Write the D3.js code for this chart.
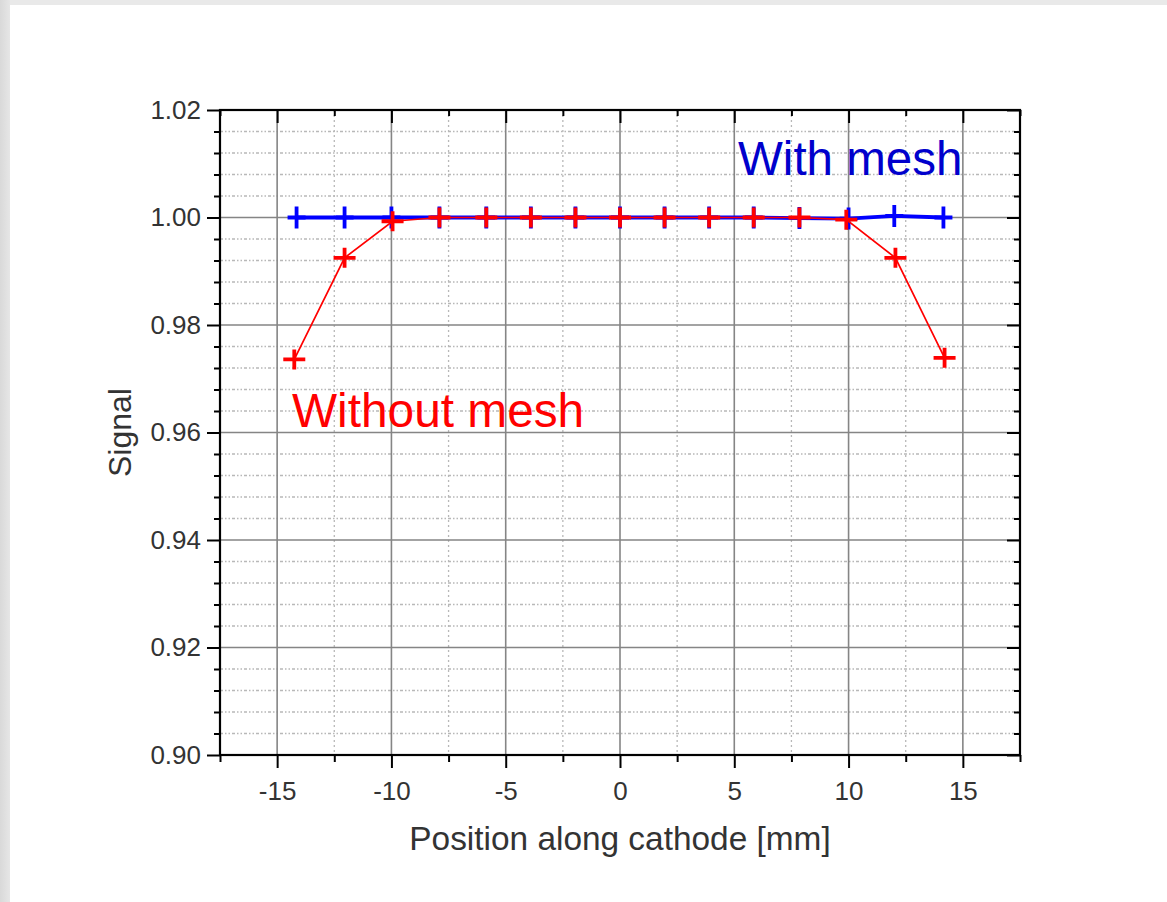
<!DOCTYPE html>
<html>
<head>
<meta charset="utf-8">
<script src="https://cdn.jsdelivr.net/npm/d3@7"></script>
<style>
  html, body { margin: 0; padding: 0; background: #ffffff; }
  svg { display: block; }
  text { font-family: "Liberation Sans", Arial, sans-serif; }
</style>
</head>
<body>
<svg id="chart" width="1167" height="902"></svg>
<script>
// Signal uniformity along the cathode, with and without mesh
const xWithMesh = [-14.15, -12.05, -10.0, -7.9, -5.85, -3.9, -1.95, 0, 1.95, 3.9, 5.85, 7.85, 10.0, 12.0, 14.15];
const yWithMesh = [1.0000, 1.0000, 1.0000, 1.0000, 1.0000, 1.0000, 1.0000, 1.0000, 1.0000, 1.0000, 1.0000, 0.9999, 0.9998, 1.0003, 1.0000];

const xWithoutMesh = [-14.25, -12.05, -9.95, -7.9, -5.85, -3.9, -1.95, 0, 1.95, 3.9, 5.85, 7.85, 9.9, 12.05, 14.2];
const yWithoutMesh = [0.9736, 0.9925, 0.9993, 1.0000, 1.0000, 1.0000, 1.0000, 1.0000, 1.0000, 1.0000, 1.0000, 1.0000, 0.9996, 0.9925, 0.9739];

const xTicks = [-15, -10, -5, 0, 5, 10, 15];
const yTicks = [0.90, 0.92, 0.94, 0.96, 0.98, 1.00, 1.02];

const svg = d3.select("#chart");
const W = 1167, H = 902;

// page frame: grey margin on the left and top edges
const defs = svg.append("defs");
const lg = defs.append("linearGradient").attr("id", "edgeL").attr("x1", 0).attr("x2", 1);
lg.append("stop").attr("offset", "0%").attr("stop-color", "#d9d9d9");
lg.append("stop").attr("offset", "100%").attr("stop-color", "#e6e6e6");
svg.append("rect").attr("x", 0).attr("y", 0).attr("width", W).attr("height", H).attr("fill", "#ffffff");
svg.append("rect").attr("x", 0).attr("y", 0).attr("width", W).attr("height", 5).attr("fill", "#e9e9e9");
svg.append("rect").attr("x", 0).attr("y", 0).attr("width", 10).attr("height", H).attr("fill", "url(#edgeL)");

const plot = { left: 220, right: 1020, top: 110, bottom: 755 };

const x = d3.scaleLinear().domain([-17.5, 17.5]).range([plot.left, plot.right]);
const y = d3.scaleLinear().domain([0.90, 1.02]).range([plot.bottom, plot.top]);

const xMinor = d3.range(-17.5, 17.51, 2.5).filter(v => Math.abs(v % 5) > 1e-6);
const yMinor = d3.range(0, 31).map(i => 0.90 + i * 0.004).filter((v, i) => i % 5 !== 0);

const g = svg.append("g");

// minor grid (dotted)
g.append("g").selectAll("line").data(yMinor).join("line")
  .attr("x1", plot.left).attr("x2", plot.right)
  .attr("y1", d => y(d)).attr("y2", d => y(d))
  .attr("stroke", "#b8b8b8").attr("stroke-width", 1.3).attr("stroke-dasharray", "3,2,1.5,2,1.5,2");
g.append("g").selectAll("line").data(xMinor).join("line")
  .attr("y1", plot.top).attr("y2", plot.bottom)
  .attr("x1", d => x(d)).attr("x2", d => x(d))
  .attr("stroke", "#b8b8b8").attr("stroke-width", 1.3).attr("stroke-dasharray", "2,3");

// major grid (solid)
g.append("g").selectAll("line").data(yTicks.slice(1, -1)).join("line")
  .attr("x1", plot.left).attr("x2", plot.right)
  .attr("y1", d => y(d)).attr("y2", d => y(d))
  .attr("stroke", "#858585").attr("stroke-width", 1.6);
g.append("g").selectAll("line").data(xTicks).join("line")
  .attr("y1", plot.top).attr("y2", plot.bottom)
  .attr("x1", d => x(d)).attr("x2", d => x(d))
  .attr("stroke", "#858585").attr("stroke-width", 1.6);

// axes: major and minor ticks
function styleAxis(sel) {
  sel.select(".domain").remove();
  sel.selectAll(".tick line").attr("stroke", "#000").attr("stroke-width", 2);
  sel.selectAll("text").attr("fill", "#333").attr("font-size", 26);
}
const fmtY = d3.format(".2f");
const fmtX = d => String(d);   // plain hyphen for negative values

svg.append("g").attr("transform", `translate(0,${plot.bottom})`)
  .call(d3.axisBottom(x).tickValues(xMinor).tickSize(7).tickFormat(""))
  .call(styleAxis);
svg.append("g").attr("transform", `translate(0,${plot.bottom})`)
  .call(d3.axisBottom(x).tickValues(xTicks).tickSize(13).tickPadding(14).tickFormat(fmtX))
  .call(styleAxis);
svg.append("g").attr("transform", `translate(0,${plot.top})`)
  .call(d3.axisBottom(x).tickValues(xMinor).tickSize(6).tickFormat(""))
  .call(styleAxis);
svg.append("g").attr("transform", `translate(0,${plot.top})`)
  .call(d3.axisBottom(x).tickValues(xTicks).tickSize(13).tickFormat(""))
  .call(styleAxis);

svg.append("g").attr("transform", `translate(${plot.left},0)`)
  .call(d3.axisLeft(y).tickValues(yMinor).tickSize(6).tickFormat(""))
  .call(styleAxis);
svg.append("g").attr("transform", `translate(${plot.left},0)`)
  .call(d3.axisLeft(y).tickValues(yTicks).tickSize(13).tickPadding(6).tickFormat(fmtY))
  .call(styleAxis);
svg.append("g").attr("transform", `translate(${plot.right},0)`)
  .call(d3.axisLeft(y).tickValues(yMinor).tickSize(6).tickFormat(""))
  .call(styleAxis);
svg.append("g").attr("transform", `translate(${plot.right},0)`)
  .call(d3.axisLeft(y).tickValues(yTicks).tickSize(13).tickFormat(""))
  .call(styleAxis);

// frame
svg.append("rect")
  .attr("x", plot.left).attr("y", plot.top)
  .attr("width", plot.right - plot.left).attr("height", plot.bottom - plot.top)
  .attr("fill", "none").attr("stroke", "#000").attr("stroke-width", 2.2);

// series
const blue = xWithMesh.map((v, i) => [v, yWithMesh[i]]);
const red = xWithoutMesh.map((v, i) => [v, yWithoutMesh[i]]);
const line = d3.line().x(d => x(d[0])).y(d => y(d[1]));

svg.append("path").datum(blue).attr("d", line)
  .attr("fill", "none").attr("stroke", "#0000ff").attr("stroke-width", 3.8);
svg.append("g").selectAll("path").data(blue).join("path")
  .attr("d", d => {
    const cx = x(d[0]), cy = y(d[1]);
    return `M${cx - 9},${cy}H${cx + 9}M${cx},${cy - 11}V${cy + 11}`;
  })
  .attr("stroke", "#0000ff").attr("stroke-width", 3.8).attr("fill", "none");

svg.append("path").datum(red).attr("d", line)
  .attr("fill", "none").attr("stroke", "#ff0000").attr("stroke-width", 1.7);
svg.append("g").selectAll("path").data(red).join("path")
  .attr("d", d => {
    const cx = x(d[0]), cy = y(d[1]);
    return `M${cx - 11},${cy}H${cx + 11}M${cx},${cy - 10}V${cy + 10}`;
  })
  .attr("stroke", "#ff0000").attr("stroke-width", 3.8).attr("fill", "none");

// series labels
svg.append("text").attr("x", 738).attr("y", 175)
  .attr("font-size", 47.5).attr("fill", "#0000cc").text("With mesh");
svg.append("text").attr("x", 292).attr("y", 427)
  .attr("font-size", 47.8).attr("fill", "#ff0000").text("Without mesh");

// axis titles
svg.append("text").attr("x", (plot.left + plot.right) / 2).attr("y", 850)
  .attr("text-anchor", "middle").attr("font-size", 33.4).attr("fill", "#333")
  .text("Position along cathode [mm]");
svg.append("text")
  .attr("transform", `translate(131,${(plot.top + plot.bottom) / 2}) rotate(-90)`)
  .attr("text-anchor", "middle").attr("font-size", 32).attr("fill", "#333")
  .text("Signal");
</script>
</body>
</html>
